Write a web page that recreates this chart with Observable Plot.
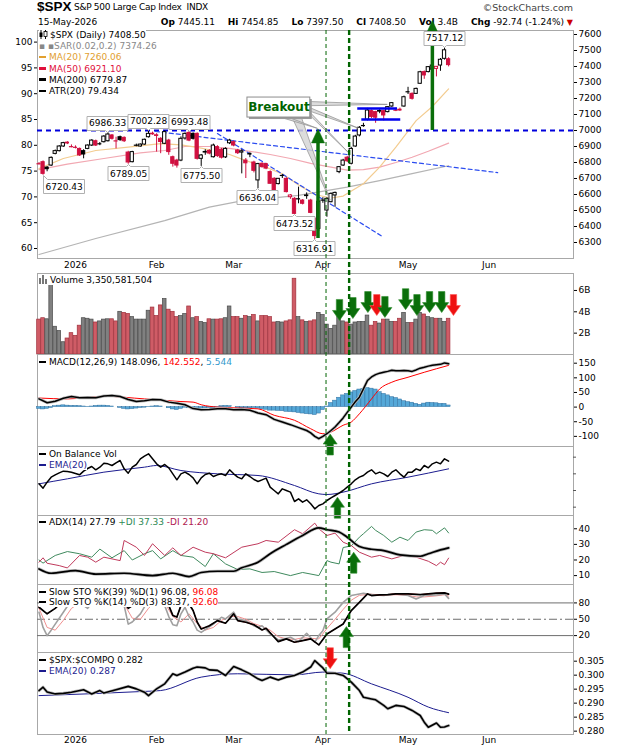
<!DOCTYPE html>
<html><head><meta charset="utf-8">
<script src="https://cdn.jsdelivr.net/npm/d3@7"></script>
<script src="https://cdn.jsdelivr.net/npm/@observablehq/plot@0.6"></script>
<style>
body{margin:0;background:#fff;}
#wrap{position:relative;width:620px;height:750px;overflow:hidden;font-family:"DejaVu Sans",Verdana,sans-serif;font-size:9px;color:#000;}
.abs{position:absolute;white-space:nowrap;}
.lg{position:absolute;white-space:nowrap;font-size:9px;line-height:11px;}
.lg > div > span{background:#fff;}
.dash{display:inline-block;width:7px;height:2.5px;vertical-align:2px;margin-right:3px;}
.hd b{margin-left:10px;}
</style></head><body><div id="wrap"></div>
<script>
// ---------- DATA (trading-day index 0 = 18-Dec-2025 ... 101 = 15-May-2026) ----------
const open = [6795,6802,6768,6781,6854,6871,6900,6924,6902,6897,
6885,6871,6885,6906,6933,6915,6927,6933,6969,6938,
6958,6954,6862,6802,6906,6900,6912,6958,6980,6970,
6948,6917,6937,6833,6812,6812,6950,6985,6979,6979,
6823,6862,6872,6833,6896,6880,6832,6920,6927,6875,
6862,6812,6850,6800,6688,6792,6790,6740,6698,6665,
6718,6698,6583,6573,6570,6562,6590,6562,6448,6385,
6562,6500,6552,6594,6740,6781,6830,6792,6900,6969,
7028,7067,7121,7115,7122,7121,7115,7150,7130,7130,
7150,7240,7229,7229,7292,7365,7365,7380,7385,7406,
7448,7445.11];
const high = [6800,6810,6775,6835,6878,6905,6926,6930,6910,6904,
6890,6880,6910,6942,6940,6925,6968,6986.33,6975,6958,
6965,6960,6870,6870,6915,6916,6946,7002.28,6990,6980,
6955,6998,6945,6840,6820,6960,6985,6993.48,6985,6985,
6850,6880,6880,6915,6905,6888,6892,6945,6935,6882,
6880,6825,6860,6808,6795,6798,6795,6748,6705,6700,
6725,6705,6600,6580,6646,6568,6610,6570,6455,6562,
6580,6580,6610,6615,6775,6820,6838,6895,6970,7025,
7045,7138,7128,7120,7130,7125,7150,7175,7140,7140,
7215,7270,7235,7265,7370,7372,7400,7410,7400,7450,
7517.12,7454.85];
const low = [6785,6720.43,6742,6775,6848,6866,6895,6912,6892,6885,
6838,6823,6880,6900,6900,6905,6922,6928,6940,6885,
6932,6925,6789.05,6798,6898,6896,6908,6953,6970,6865,
6855,6912,6845,6771,6765,6805,6940,6930,6940,6815,
6775.50,6845,6848,6828,6832,6822,6825,6912,6898,6850,
6729,6700,6830,6735,6636.04,6765,6755,6665,6620,6660,
6700,6610,6570,6473.52,6542,6535,6570,6480,6316.91,6370,
6545,6458,6548,6520,6730,6775,6800,6785,6895,6960,
7020,7060,7075,7045,7105,7060,7110,7145,7118,7120,
7145,7225,7190,7225,7288,7320,7360,7375,7335,7370,
7440,7397.50];
const close = [6792,6729,6758,6829,6871,6900,6921,6919,6899,6895,
6844,6850,6906,6937,6906,6917,6962,6975,6948,6935,
6940,6933,6800,6865,6908,6912,6942,6979,6976,6966,
6928,6990,6865,6792,6781,6948,6979,6937,6948,6823,
6844,6866,6856,6906,6840,6830,6885,6937,6906,6858,
6870,6795,6854,6748,6790,6771,6762,6667,6625,6698,
6719,6615,6594,6479,6573,6542,6594,6485,6340,6555,
6565,6573,6604,6610,6771,6812,6808,6885,6962,7017,
7031,7125,7085,7080,7118,7094,7146,7171,7127,7125,
7208,7242,7198,7260,7364,7344,7396,7406,7398,7442,
7501.24,7408.50];
// volume in billions of shares
const volume = [3.27,3.4,3.3,6.5,2.6,2.2,1.15,1.5,2.0,1.75,
2.7,3.4,3.35,3.27,3.0,3.1,3.27,3.3,3.3,3.1,
4.0,3.9,3.8,3.5,3.27,3.27,3.27,4.1,4.4,3.6,
4.6,5.2,4.2,4.0,3.5,3.6,3.8,4.5,3.4,3.5,
3.05,2.95,3.3,3.27,3.27,3.3,3.4,4.5,3.5,3.5,
3.35,3.6,3.5,3.7,3.1,3.6,3.6,3.5,3.0,3.05,
3.0,3.1,3.2,7.1,3.5,3.2,3.05,3.1,3.2,3.9,
3.7,2.8,2.4,2.7,3.5,3.1,3.0,2.8,3.0,3.05,
3.05,3.65,2.7,3.05,2.9,3.27,3.27,3.05,3.05,3.35,
3.9,2.95,2.95,3.27,3.9,3.75,3.5,3.4,3.35,3.35,
3.05,3.350581504];
// moving averages read as [day, value]
const ma20Pts = [[0,6762],[6,6825],[14,6875],[22,6896],[30,6918],[35,6910],[39,6895],[43,6875],[47,6850],[51,6812],[56,6770],[60,6729],[64,6660],[68,6600],[72,6578],[75,6590],[80,6667],[84,6771],[88,6896],[93,7062],[97,7150],[101,7260.06]];
const ma50Pts = [[0,6755],[7,6790],[16,6825],[25,6860],[31,6875],[36,6900],[42,6900],[47,6888],[52,6870],[57,6850],[62,6825],[67,6795],[72,6771],[76,6752],[80,6755],[84,6771],[88,6800],[92,6833],[96,6870],[101,6921.10]];
const ma200Pts = [[0,6225],[14,6325],[31,6437],[42,6521],[49,6556],[64,6594],[76,6646],[84,6687],[92,6730],[101,6779.87]];
// annotations (day, price)
const resistance = 7000;
const trend1 = [[28.7,6994],[113.1,6737]];
const trend2 = [[44,6981],[84.7,6337]];
const rangeTop = {from:78.6, to:88.4, price:7137};
const rangeBot = {from:79.6, to:89.2, price:7069};
const breakoutBox = {x1:51.4, x2:66.9, y1:7081, y2:7206, text:"Breakout"};
const priceArrows = [{day:68.8, from:6325, to:7010},{day:97, from:7000, to:7687}];
const labelHighDays = [17,27,37,100];
const labelLowDays = [22,40,54,63,68];
const labelLowLeftDays = [1];
const signalDays = [70.9, 76.6];   // dashed verticals
// MACD
const macdPts = [[0,28],[2,15],[4,20],[6,30],[8,36],[10,32],[12,33],[14,32],[16,38],[18,40],[20,36],[22,26],[24,19],[26,22],[28,26],[30,25],[32,17],[34,13],[36,8],[38,-5],[40,-9],[42,-8],[44,-6],[46,-6],[48,-9],[50,-8],[52,-11],[54,-20],[56,-26],[58,-42],[60,-51],[62,-60],[64,-70],[66,-80],[67,-88],[68,-100],[69,-108],[70,-100],[71,-91],[72,-80],[73,-68],[74,-53],[75,-37],[76,-18],[77,0],[78,18],[79,34],[80,62],[81,91],[82,103],[83,111],[84,116],[85,119],[86,122],[87,126],[88,124],[89,124],[90,125],[91,124],[92,122],[93,127],[94,133],[95,136],[96,140],[97,143],[98,145],[99,146],[100,151],[101,148.096]];
const signalPts = [[0,31],[7,28],[16,37],[26,28],[35,19],[38,17],[40,8],[44,0],[49,-3],[54,-6],[58,-28],[63,-45],[67,-74],[70,-91],[72,-85],[75,-62],[77,-51],[79,-23],[82,28],[84,62],[87,85],[91,102],[95,119],[101,142.552]];
const macdHist = [-6,-8,-6,-3,3,5,6,5,4,4,
3,2,1,2,4,5,5,4,2,0,
-3,-6,-8,-7,-5,-3,-2,1,2,3,
2,0,-4,-8,-10,-6,-2,-4,-8,-8,
-5,-4,-3,-4,1,3,4,3,0,-2,
-4,-5,-4,-3,-5,-7,-9,-12,-12,-13,
-14,-16,-17,-18,-20,-22,-24,-25,-27,-22,
-10,2,14,22,32,40,45,50,55,60,
62,65,63,60,51,45,40,34,31,26,
20,17,15,11,8,12,15,14,13,11,
11,5.544];
// On balance volume (billions, relative)
const obv = [12.0,10.7,12.5,14.0,14.7,15.3,15.8,15.7,15.5,15.1,
14.7,15.8,16.6,17.2,16.2,17.0,18.2,18.0,17.5,18.3,
19.0,16.5,15.2,17.0,17.8,19.5,20.3,21.0,19.5,18.0,
17.0,17.8,16.8,15.0,13.2,15.0,15.5,14.8,13.8,12.0,
13.8,14.8,15.2,14.2,14.7,15.0,14.5,16.2,15.0,14.0,
13.5,15.0,14.2,13.3,12.7,13.2,13.7,11.0,10.0,9.0,
10.5,10.0,9.5,6.7,7.5,6.5,7.2,6.0,4.5,5.5,
6.0,7.0,7.8,8.5,9.2,10.0,11.0,12.0,13.2,14.0,
14.5,15.5,16.2,15.0,15.5,15.0,14.2,15.5,16.2,15.0,
14.0,15.5,15.5,16.5,16.0,17.5,16.8,18.0,18.5,18.0,
19.5,18.8];
const obvEmaPts = [[0,12.0],[7,13.5],[16,15.5],[26,17.0],[29,17.5],[35,16.0],[44,15.0],[54,14.5],[63,11.5],[69,9.0],[71,8.8],[75,9.5],[82,12.0],[91,14.0],[101,16.5]];
// ADX(14)
const adxPts = [[0,14.3],[3,11.5],[9,13.2],[14,11],[21,11.5],[28,10],[33,11.5],[37,9.4],[40,12],[44,12.8],[48,12.8],[50,15],[54,18.6],[57,24],[61,30],[65,35.7],[69,40.6],[71,39.4],[74,37.9],[76,34.6],[79,28.6],[82,26.9],[85,26],[89,23.3],[94,22.4],[96,24],[99,26.5],[101,27.79]];
const pdiPts = [[0,20],[1,18],[4,22.9],[7,25.4],[10,24],[13,21.8],[15,27],[18,21.4],[21,26],[23,20],[26,24],[28,26],[30,20.7],[33,26],[35,22.9],[38,21.8],[41,15.8],[43,24],[46,17.5],[49,13.9],[52,14.3],[55,12],[58,12.6],[62,10],[65,12],[69,10],[71,19.6],[72,18.6],[74,17.5],[75,28],[77,29],[79,34.6],[80,36.8],[82,41.5],[83,39],[85,35.7],[87,31.4],[89,34.6],[91,32.5],[93,37.9],[95,39.4],[97,39],[98,36.8],[100,40.6],[101,37.33]];
const mdiPts = [[0,18.6],[1,21.4],[2,17.9],[5,16.4],[7,14.9],[10,22.9],[12,21.8],[14,18.6],[16,21.8],[20,19.6],[21,32.5],[24,28.2],[26,22.9],[28,30.4],[31,22.9],[33,27.8],[35,22.9],[38,28.2],[41,25],[43,24],[46,21.4],[50,28.2],[54,30.4],[56,32.5],[59,31.4],[63,39.4],[65,36.8],[68,43.6],[69,40],[71,35.7],[73,37.2],[75,31.4],[77,29.3],[79,25],[82,21.8],[84,22.9],[87,20.7],[90,22.9],[93,21.8],[96,19.2],[98,16.4],[99,18.6],[100,17],[101,21.2]];
// Slow stochastics
const k39Pts = [[0,72],[2,60],[4,70],[6,85],[8,90],[12,88],[16,95],[20,92],[22,70],[25,85],[28,95],[31,90],[32,75],[33,57],[34,54],[35,75],[36,85],[37,78],[38,66],[39,45],[40,32],[42,38],[44,47.5],[46,42.7],[48,59.8],[49,47.5],[51,44.5],[53,40],[55,30.4],[56,33.5],[58,17],[59,9],[61,14],[63,7.8],[65,10.8],[67,14],[69,2.9],[71,23],[73,32],[75,41.4],[77,66],[79,81],[81,96.5],[82,93.5],[84,94.7],[86,95.3],[88,96.5],[91,96.5],[94,95.3],[96,96.5],[98,97.8],[100,98.4],[101,96.08]];
const k14Pts = [[0,63],[1,35],[2,20],[3,30],[4,41],[6,63],[8,85],[10,80],[12,70],[14,88],[17,95],[20,80],[21,75],[22,41],[23,45],[25,60],[27,85],[29,90],[31,75],[32,55],[33,40],[34,38],[35,60],[36,72],[37,55],[38,45],[39,30],[40,26],[42,36],[43,41],[45,53.7],[46,50.6],[48,63],[49,50.6],[51,47.5],[53,38],[54,35],[55,38],[57,23],[59,12],[61,15],[62,17],[64,9],[66,24.3],[68,7.8],[69,20],[70,29],[71,50.6],[73,63],[75,81],[77,93.5],[80,97.8],[82,95.3],[85,93.5],[88,96.5],[91,93.5],[93,87.4],[95,93.5],[98,94.7],[100,96.5],[101,88.37]];
const d3Pts = [[0,70],[2,35],[4,30],[6,48],[8,70],[10,80],[12,75],[15,85],[18,90],[21,78],[23,52],[25,50],[27,70],[29,85],[31,80],[33,55],[35,45],[37,60],[39,42],[41,30],[43,35],[45,48],[47,55],[49,55],[51,50],[53,42],[55,37],[57,30],[59,18],[61,14],[63,13],[65,16],[67,15],[69,14],[71,33],[73,50],[75,68],[77,85],[79,94],[82,96],[85,94],[88,95],[91,94],[93,91],[95,91],[98,93],[100,95],[101,92.6]];
const stoLevels = [20,80];
// $SPX:$COMPQ ratio
const ratioPts = [[0,.2945],[1,.2957],[2,.2940],[4,.2933],[6,.2935],[8,.2939],[11,.2948],[13,.2933],[15,.2945],[16,.2936],[19,.2948],[22,.2960],[24,.2951],[26,.2939],[27,.2927],[29,.2951],[31,.2969],[33,.3005],[34,.2999],[36,.3011],[38,.3025],[39,.3029],[41,.3026],[42,.3019],[44,.3017],[46,.2999],[48,.3031],[50,.3019],[52,.3005],[54,.2987],[55,.2981],[57,.2993],[59,.2983],[61,.2993],[63,.2999],[65,.3011],[67,.3029],[68,.3052],[70,.3026],[71,.3007],[73,.3007],[75,.2999],[77,.2975],[79,.2945],[80,.2921],[82,.2915],[83,.2912],[85,.2892],[86,.2880],[88,.2892],[90,.2888],[92,.2874],[94,.2856],[95,.2832],[96,.2814],[98,.2829],[99,.2814],[100,.2815],[101,.2820]];
const ratioEmaPts = [[0,.2927],[26,.2942],[30,.2945],[40,.2993],[49,.3005],[63,.3001],[70,.3011],[75,.3007],[82,.2969],[91,.2921],[96,.2886],[101,.2866]];
// signal arrows
const volArrows = [{day:74.1,tip:3.19,c:"g"},{day:77.4,tip:3.37,c:"g"},{day:81.1,tip:3.93,c:"g"},{day:83.3,tip:3.65,c:"r"},{day:85.3,tip:3.47,c:"g"},{day:90.4,tip:4.2,c:"g"},{day:93.2,tip:3.65,c:"g"},{day:96.3,tip:3.93,c:"g"},{day:99.3,tip:3.93,c:"g"},{day:102.2,tip:3.65,c:"r"}];
const macdArrow = [{day:71.8, tip:-92}];
const obvArrow = [{day:73.6, tip:8.0}];
const adxArrow = [{day:77.6, tip:25}];
const stoArrow = [{day:75.8, tip:36.5}];
const ratioArrow = [{day:71.8, tip:0.3023}];
// axis
const monthDays = [9,29,48,70,91,111];
const monthNames = ["2026","Feb","Mar","Apr","May","Jun"];
const priceTicks = d3.range(6300, 7601, 100);
const atrTicks = [60,65,70,75,80,85,90,95,100];
const obvTicks = [5,10,15,20];

// ---------- RENDER ----------
const wrap = document.getElementById("wrap");
const RED = "#d01040", GREEN = "#0a6e0a", ARROWRED = "#ee1111";
const XDOM = [-0.37, 131.8];
const candles = close.map((c,i)=>({i, o:open[i], h:high[i], l:low[i], c,
  col: (i>0 ? c < close[i-1] : c < open[i]) ? RED : "#000"}));
const bigBody = candles.filter(d=>Math.abs(d.c-d.o) >= 4);
const doji = candles.filter(d=>Math.abs(d.c-d.o) < 4);

const blockArrow = {draw(ctx){ctx.moveTo(0,0);ctx.lineTo(7,10);ctx.lineTo(3.2,10);ctx.lineTo(3.2,21);ctx.lineTo(-3.2,21);ctx.lineTo(-3.2,10);ctx.lineTo(-7,10);ctx.closePath();}};
const headTri = {draw(ctx){ctx.moveTo(0,0);ctx.lineTo(6.5,14);ctx.lineTo(-6.5,14);ctx.closePath();}};
const P = d=>d[0], V = d=>d[1];

function addHTML(html){ const d=document.createElement("div"); d.innerHTML=html; while(d.firstChild) wrap.appendChild(d.firstChild); }

function panel(top, h, ydom, marks){
  const p = Plot.plot({width:620, height:h, marginLeft:37, marginRight:47, marginTop:0, marginBottom:0,
    x:{domain:XDOM, axis:null}, y:{domain:ydom, axis:null, label:null}, color:{type:"identity"},
    style:{overflow:"visible", fontFamily:"DejaVu Sans, sans-serif", fontSize:"9px", background:"transparent"},
    marks:[Plot.frame({stroke:"#a8a8a8"}), ...marks]});
  p.style.position="absolute"; p.style.left="0px"; p.style.top=top+"px";
  wrap.appendChild(p);
  return p;
}
const rightAxis = (ticks, fmt) => Plot.axisY({anchor:"right", label:null, ticks, tickSize:3, tickPadding:2, fontSize:9, tickFormat: fmt || (d=>String(d))});
const blockUp = (data, fill) => Plot.dot(data, {x:"day", y:"tip", symbol:blockArrow, fill, stroke:"#2f8f2f", strokeWidth:0.6});

// header
const last = close.length-1;
const chg = close[last]-close[last-1];
addHTML(`<div class="abs" style="left:37px;top:-1px;font-family:'Liberation Sans',Arial,sans-serif;font-weight:bold;font-size:13.5px">$SPX</div>
<div class="abs" style="left:74px;top:2px;font-size:9px;letter-spacing:-0.3px">S&amp;P 500 Large Cap Index&nbsp; INDX</div>
<div class="abs" style="right:47px;top:2px;font-size:9.5px;color:#444">©StockCharts.com</div>
<div class="abs" style="left:38px;top:17px;font-size:9px">15-May-2026</div>
<div class="abs hd" style="right:47px;top:17px;font-size:9px"><b>Op</b> ${open[last].toFixed(2)} <b>Hi</b> ${high[last].toFixed(2)} <b>Lo</b> ${low[last].toFixed(2)} <b>Cl</b> ${close[last].toFixed(2)} <b>Vol</b> 3.4B <b>Chg</b> ${chg.toFixed(2)} (${(chg/close[last-1]*100).toFixed(2)}%) <span style="color:#c00;font-size:8px">▼</span></div>`);

// price panel
const tipOpts = {fill:"white", stroke:"#b0b0b0", fontSize:9, textPadding:2, pointerSize:4, pathFilter:"none"};
const tipMarks = Plot.tip ? [
  Plot.tip(labelHighDays, {x:d=>d, y:d=>high[d], title:d=>high[d].toFixed(2), anchor:"bottom", ...tipOpts}),
  Plot.tip(labelLowDays, {x:d=>d, y:d=>low[d], title:d=>low[d].toFixed(2), anchor:"top", ...tipOpts}),
  Plot.tip(labelLowLeftDays, {x:d=>d, y:d=>low[d], title:d=>low[d].toFixed(2), anchor:"top-left", ...tipOpts})
] : [
  Plot.text(labelHighDays, {x:d=>d, y:d=>high[d], text:d=>high[d].toFixed(2), dy:-9, stroke:"white", strokeWidth:3}),
  Plot.text(labelLowDays.concat(labelLowLeftDays), {x:d=>d, y:d=>low[d], text:d=>low[d].toFixed(2), dy:9, stroke:"white", strokeWidth:3})
];
const wedgesR = [
  {x:breakoutBox.x2, y1:7178, y2:7152, z:1},{x:86, y1:7160, y2:7160, z:1},
  {x:breakoutBox.x2, y1:7140, y2:7118, z:2},{x:78.8, y1:7012, y2:7012, z:2},
  {x:breakoutBox.x2, y1:7112, y2:7092, z:3},{x:76.3, y1:6862, y2:6862, z:3}];
const wedgesB = [
  {y:breakoutBox.y1, x1:62.5, x2:64.8, z:4},{y:6562, x1:71.9, x2:71.9, z:4},
  {y:breakoutBox.y1, x1:59.5, x2:61.5, z:5},{y:7010, x1:68.8, x2:68.8, z:5}];

const price = panel(30, 228, [6200, 7625], [
  Plot.line(ma200Pts, {x:P, y:V, stroke:"#b4b4b4", strokeWidth:1.2}),
  Plot.line(ma50Pts, {x:P, y:V, stroke:"#f2a8b2", strokeWidth:1.2}),
  Plot.line(ma20Pts, {x:P, y:V, stroke:"#f3cc90", strokeWidth:1.2}),
  Plot.ruleY([resistance], {stroke:"#0000dd", strokeWidth:2, strokeDasharray:"5,4"}),
  Plot.line(trend1, {x:P, y:V, stroke:"#2b4cf0", strokeWidth:1.2, strokeDasharray:"4,3"}),
  Plot.line(trend2, {x:P, y:V, stroke:"#2b4cf0", strokeWidth:1.2, strokeDasharray:"4,3"}),
  Plot.ruleX(candles, {x:"i", y1:"l", y2:"h", stroke:"col", strokeWidth:1}),
  Plot.rect(bigBody, {x1:d=>d.i-0.4, x2:d=>d.i+0.4, y1:"o", y2:"c", fill:d=>d.c>d.o?"white":d.col, stroke:"col", strokeWidth:1}),
  Plot.ruleY(doji, {y:"c", x1:d=>d.i-0.5, x2:d=>d.i+0.5, stroke:"col", strokeWidth:1.2}),
  Plot.ruleY([rangeTop], {y:"price", x1:"from", x2:"to", stroke:"#0000ee", strokeWidth:2.5}),
  Plot.ruleY([rangeBot], {y:"price", x1:"from", x2:"to", stroke:"#0000ee", strokeWidth:2.5}),
  Plot.areaY(wedgesR, {x:"x", y1:"y1", y2:"y2", z:"z", fill:"#d6d6d6", fillOpacity:0.85, stroke:"#8c8c8c", strokeWidth:0.7}),
  Plot.areaX(wedgesB, {y:"y", x1:"x1", x2:"x2", z:"z", fill:"#d6d6d6", fillOpacity:0.85, stroke:"#8c8c8c", strokeWidth:0.7}),
  Plot.rect([breakoutBox], {x1:"x1", x2:"x2", y1:"y1", y2:"y2", fill:"#9a9a9a", dx:2, dy:2}),
  Plot.rect([breakoutBox], {x1:"x1", x2:"x2", y1:"y1", y2:"y2", fill:"white", stroke:"#8c8c8c"}),
  Plot.text([breakoutBox], {x:d=>(d.x1+d.x2)/2, y:d=>(d.y1+d.y2)/2, text:"text", fill:"#006400", fontWeight:"bold", fontSize:12}),
  Plot.ruleX(priceArrows, {x:"day", y1:"from", y2:d=>d.to-60, stroke:GREEN, strokeWidth:3.5}),
  Plot.dot(priceArrows, {x:"day", y:"to", symbol:headTri, fill:GREEN, stroke:GREEN, strokeWidth:0.5}),
  ...tipMarks,
  rightAxis(priceTicks),
  Plot.axisY({anchor:"left", label:null, ticks:atrTicks.map(v=>6262.5+(v-60)*32.25), tickFormat:d=>String(Math.round((d-6262.5)/32.25+60)), tickSize:3, tickPadding:2, fontSize:9}),
  Plot.text(monthDays, {x:d=>d, text:(d,i)=>monthNames[i], frameAnchor:"bottom", dy:9, fontSize:9, fontWeight:(d,i)=>i===0?"bold":"normal"})
]);

// volume panel
const vol = panel(273, 81, [0, 7.59], [
  Plot.rect(candles, {x1:d=>d.i-0.45, x2:d=>d.i+0.45, y1:0, y2:d=>volume[d.i], fill:d=>d.col===RED?"#cf5c66":"#808080", stroke:d=>d.col===RED?"#a0303c":"#4a4a4a", strokeWidth:0.7}),
  Plot.dot(volArrows, {x:"day", y:"tip", symbol:blockArrow, rotate:180, fill:d=>d.c==="g"?GREEN:ARROWRED, stroke:d=>d.c==="g"?"#2f8f2f":"#ff5555", strokeWidth:0.6}),
  rightAxis([2,4,6], d=>d+"B")
]);

// MACD panel
const macd = panel(354, 92, [-134.6, 179.7], [
  Plot.rect(candles, {x1:d=>d.i-0.5, x2:d=>d.i+0.5, y1:0, y2:d=>macdHist[d.i], fill:"#55a8d8", stroke:"#2f6f9f", strokeWidth:0.5}),
  Plot.line(signalPts, {x:P, y:V, stroke:"#ff0000", strokeWidth:1, curve:"monotone-x"}),
  Plot.line(macdPts, {x:P, y:V, stroke:"#bbbbbb", strokeWidth:3}),
  Plot.line(macdPts, {x:P, y:V, stroke:"#000", strokeWidth:1.5}),
  blockUp(macdArrow, GREEN),
  rightAxis([-100,-50,0,50,100,150])
]);

// OBV panel (tick marks only, no labels)
const obvP = panel(446, 69, [2.5, 23.2], [
  Plot.line(obvEmaPts, {x:P, y:V, stroke:"#1c1c8f", strokeWidth:1, curve:"monotone-x"}),
  Plot.line(obv, {x:(d,i)=>i, y:d=>d, stroke:"#000", strokeWidth:1.5}),
  blockUp(obvArrow, GREEN),
  Plot.ruleY(obvTicks, {x1:XDOM[1], x2:XDOM[1]+0.74, stroke:"#555"})
]);

// ADX panel
const adxP = panel(515, 69, [4.3, 48.5], [
  Plot.line(pdiPts, {x:P, y:V, stroke:"#3f8a5e", strokeWidth:1}),
  Plot.line(mdiPts, {x:P, y:V, stroke:"#c03a5c", strokeWidth:1}),
  Plot.line(adxPts, {x:P, y:V, stroke:"#bbbbbb", strokeWidth:3.2, curve:"monotone-x"}),
  Plot.line(adxPts, {x:P, y:V, stroke:"#000", strokeWidth:1.7, curve:"monotone-x"}),
  blockUp(adxArrow, GREEN),
  rightAxis([10,20,30,40])
]);

// STO panel
const stoP = panel(584, 68, [-11, 113.8], [
  Plot.ruleY(stoLevels, {stroke:"#6e6e6e", strokeWidth:1}),
  Plot.ruleY([50], {stroke:"#6e6e6e", strokeWidth:1, strokeDasharray:"8,3,2,3"}),
  Plot.line(d3Pts, {x:P, y:V, stroke:"#f09090", strokeWidth:1}),
  Plot.line(k14Pts, {x:P, y:V, stroke:"#a0a0a0", strokeWidth:1.6}),
  Plot.line(k39Pts, {x:P, y:V, stroke:"#ff0000", strokeWidth:1}),
  Plot.line(k39Pts, {x:P, y:V, stroke:"#000", strokeWidth:1.7}),
  blockUp(stoArrow, GREEN),
  rightAxis([20,50,80])
]);

// ratio panel
const ratioP = panel(652, 82, [0.2788, 0.3081], [
  Plot.line(ratioEmaPts, {x:P, y:V, stroke:"#1c1c8f", strokeWidth:1, curve:"monotone-x"}),
  Plot.line(ratioPts, {x:P, y:V, stroke:"#bbbbbb", strokeWidth:3}),
  Plot.line(ratioPts, {x:P, y:V, stroke:"#000", strokeWidth:1.6}),
  Plot.dot(ratioArrow, {x:"day", y:"tip", symbol:blockArrow, rotate:180, fill:ARROWRED, stroke:"#ff5555", strokeWidth:0.6}),
  rightAxis([0.28,0.285,0.29,0.295,0.30,0.305], d=>d.toFixed(3)),
  Plot.text(monthDays, {x:d=>d, text:(d,i)=>monthNames[i], frameAnchor:"bottom", dy:8, fontSize:9, fontWeight:(d,i)=>i===0?"bold":"normal"})
]);

// dashed signal verticals across every panel
const xs = price.scale("x");
const ov = d3.select(wrap).append("svg").attr("width",620).attr("height",750)
  .style("position","absolute").style("left","0px").style("top","0px").style("pointer-events","none");
ov.selectAll("line").data(signalDays).join("line")
  .attr("x1", d=>xs.apply(d)).attr("x2", d=>xs.apply(d)).attr("y1", 30).attr("y2", 734)
  .attr("stroke", "#006400").attr("stroke-width", (d,i)=>i===0?1:2.4).attr("stroke-dasharray", (d,i)=>i===0?"4,3":"5,3");

// legends
const dash = c => `<i class="dash" style="background:${c}"></i>`;
const candleIcon = `<svg width="9" height="9" style="vertical-align:-1px;margin-right:2px"><line x1="2" y1="0" x2="2" y2="9" stroke="#000"/><rect x="0.5" y="2.5" width="3" height="4.5" fill="#000"/><line x1="6.5" y1="0" x2="6.5" y2="9" stroke="#000"/><rect x="5" y="1.5" width="3" height="5" fill="#fff" stroke="#000" stroke-width="0.8"/></svg>`;
const volIcon = `<svg width="9" height="9" style="vertical-align:-1px;margin-right:2px"><rect x="0" y="3" width="2" height="6" fill="#777"/><rect x="3" y="0" width="2" height="9" fill="#777"/><rect x="6" y="4" width="2" height="5" fill="#777"/></svg>`;
addHTML(`<div class="lg" style="left:39px;top:30px;line-height:11.2px">
<div><span>${candleIcon}$SPX (Daily) ${close[last].toFixed(2)}</span></div>
<div><span style="color:#888">▪ ▪SAR(0.02,0.2) 7374.26</span></div>
<div><span style="color:#e2a030">${dash("#e2a030")}MA(20) ${ma20Pts[ma20Pts.length-1][1].toFixed(2)}</span></div>
<div><span style="color:#e0103c">${dash("#e0103c")}MA(50) ${ma50Pts[ma50Pts.length-1][1].toFixed(2)}</span></div>
<div><span>${dash("#000")}MA(200) ${ma200Pts[ma200Pts.length-1][1].toFixed(2)}</span></div>
<div><span>${dash("#000")}ATR(20) 79.434</span></div></div>
<div class="lg" style="left:39px;top:275px"><div><span>${volIcon}Volume 3,350,581,504</span></div></div>
<div class="lg" style="left:39px;top:357px"><div><span>${dash("#000")}MACD(12,26,9) 148.096, <span style="color:#ff0000">142.552</span>, <span style="color:#3399cc">5.544</span></span></div></div>
<div class="lg" style="left:39px;top:449px"><div><span>${dash("#000")}On Balance Vol</span></div><div><span style="color:#1c1c8f">${dash("#1c1c8f")}EMA(20)</span></div></div>
<div class="lg" style="left:39px;top:517px"><div><span>${dash("#000")}ADX(14) 27.79 <span style="color:#2f8a55">+DI 37.33</span> <span style="color:#b02050">-DI 21.20</span></span></div></div>
<div class="lg" style="left:39px;top:587px;line-height:10px"><div><span>${dash("#000")}Slow STO %K(39) %D(1) 96.08, <span style="color:#ff0000">96.08</span></span></div><div><span>${dash("#000")}Slow STO %K(14) %D(3) 88.37, <span style="color:#ff0000">92.60</span></span></div></div>
<div class="lg" style="left:39px;top:655px"><div><span>${dash("#000")}$SPX:$COMPQ 0.282</span></div><div><span style="color:#1c1c8f">${dash("#1c1c8f")}EMA(20) 0.287</span></div></div>`);
</script></body></html>
